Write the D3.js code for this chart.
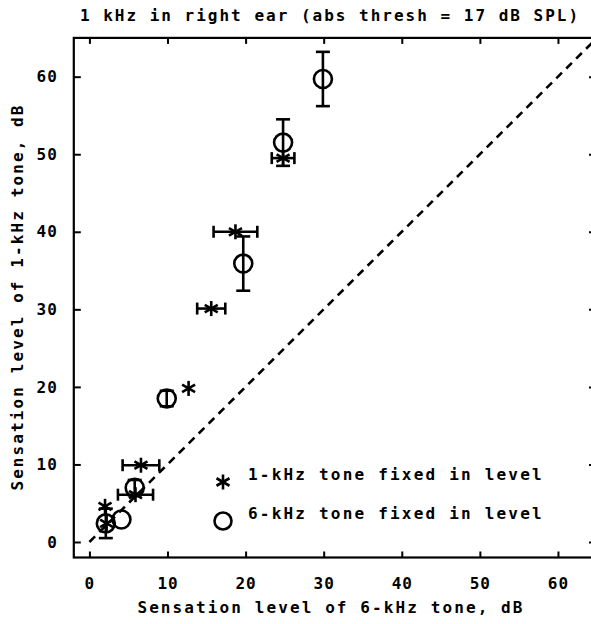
<!DOCTYPE html>
<html>
<head>
<meta charset="utf-8">
<script src="https://cdn.jsdelivr.net/npm/d3@7"></script>
<style>
  body { margin: 0; background: #fff; }
  text { font-family: "DejaVu Sans Mono", monospace; font-weight: bold; fill: #000; }
</style>
</head>
<body>
<div id="chart"></div>
<script>
const width = 591
const height = 624

// 1-kHz tone fixed in level (asterisks), horizontal error bars
const starX = [24.8, 18.7, 15.6, 12.7, 6.6, 5.9, 2.0, 2.2]
const starY = [49.5, 40.0, 30.1, 19.8, 9.9, 6.1, 4.6, 2.4]
const starErr = [1.45, 2.8, 1.8, 0, 2.35, 2.25, 0, 0]

// 6-kHz tone fixed in level (circles), vertical error bars
const circleX = [29.9, 24.8, 19.7, 9.9, 5.8, 2.1, 4.1]
const circleY = [59.7, 51.5, 35.9, 18.5, 7.0, 2.4, 2.9]
const circleErr = [3.5, 3.0, 3.5, 1.0, 1.0, 1.9, 0]

const xTicks = [0, 10, 20, 30, 40, 50, 60]
const yTicks = [0, 10, 20, 30, 40, 50, 60]
const diagonal = [[0, 0], [65, 65]]

const legendLabels = ['1-kHz tone fixed in level', '6-kHz tone fixed in level']

const plotLeft = 73.8, plotRight = 597, plotTop = 37.9, plotBottom = 557.5

const svg = d3.select('#chart')
    .append('svg')
    .attr('width', width)
    .attr('height', height)

const xScale = d3.scaleLinear().domain([-2, 65]).range([plotLeft, plotRight])
const yScale = d3.scaleLinear().domain([-2, 65]).range([plotBottom, plotTop])

svg.append('defs').append('clipPath').attr('id', 'plot')
    .append('rect')
    .attr('x', plotLeft).attr('y', plotTop)
    .attr('width', plotRight - plotLeft).attr('height', plotBottom - plotTop)

// Axes, ticks pointing inward
const fontSize = 16
const axisStyle = g => {
    g.select('.domain').remove()
    g.selectAll('.tick line').attr('stroke', '#000').attr('stroke-width', 2)
    g.selectAll('.tick text')
        .style('font-size', fontSize + 'px')
        .style('letter-spacing', '1px')
}

svg.append('g')
    .attr('transform', `translate(0, ${plotBottom})`)
    .call(d3.axisBottom(xScale).tickValues(xTicks).tickSizeInner(-6).tickSizeOuter(0).tickPadding(20))
    .call(axisStyle)

svg.append('g')
    .attr('transform', `translate(0, ${plotTop})`)
    .call(d3.axisTop(xScale).tickValues(xTicks).tickSizeInner(-6).tickSizeOuter(0).tickFormat(''))
    .call(axisStyle)

svg.append('g')
    .attr('transform', `translate(${plotLeft}, 0)`)
    .call(d3.axisLeft(yScale).tickValues(yTicks).tickSizeInner(-7).tickSizeOuter(0).tickPadding(16))
    .call(axisStyle)

svg.append('g')
    .attr('transform', `translate(${plotRight}, 0)`)
    .call(d3.axisRight(yScale).tickValues(yTicks).tickSizeInner(-8).tickSizeOuter(0).tickFormat(''))
    .call(axisStyle)

// Frame
svg.append('rect')
    .attr('x', plotLeft).attr('y', plotTop)
    .attr('width', plotRight - plotLeft).attr('height', plotBottom - plotTop)
    .attr('fill', 'none')
    .attr('stroke', '#000')
    .attr('stroke-width', 2.2)

// Equal sensation line
svg.append('path')
    .datum(diagonal)
    .attr('clip-path', 'url(#plot)')
    .attr('d', d3.line().x(d => xScale(d[0])).y(d => yScale(d[1])))
    .attr('fill', 'none')
    .attr('stroke', '#000')
    .attr('stroke-width', 2.6)
    .attr('stroke-dasharray', '8,6')

const marks = svg.append('g')
    .attr('stroke', '#000')
    .attr('stroke-width', 2.6)
    .attr('fill', 'none')

const cap = 7

// Circles with vertical error bars
const circles = circleX.map((x, i) => ({ x, y: circleY[i], e: circleErr[i] }))
circles.filter(d => d.e > 0).forEach(d => {
    const g = marks.append('g')
    g.append('line')
        .attr('x1', xScale(d.x)).attr('x2', xScale(d.x))
        .attr('y1', yScale(d.y - d.e)).attr('y2', yScale(d.y + d.e))
    ;[d.y - d.e, d.y + d.e].forEach(v => {
        g.append('line')
            .attr('x1', xScale(d.x) - cap).attr('x2', xScale(d.x) + cap)
            .attr('y1', yScale(v)).attr('y2', yScale(v))
    })
})
marks.selectAll('circle.mark')
    .data(circles)
    .enter()
    .append('circle')
    .attr('class', 'mark')
    .attr('cx', d => xScale(d.x))
    .attr('cy', d => yScale(d.y))
    .attr('r', 9)

// Asterisks with horizontal error bars
const asterisk = (g, cx, cy, r) => {
    g.append('line').attr('x1', cx).attr('x2', cx).attr('y1', cy - r).attr('y2', cy + r)
    const dx = r * Math.cos(Math.PI / 6), dy = r * Math.sin(Math.PI / 6)
    g.append('line').attr('x1', cx - dx).attr('x2', cx + dx).attr('y1', cy - dy).attr('y2', cy + dy)
    g.append('line').attr('x1', cx - dx).attr('x2', cx + dx).attr('y1', cy + dy).attr('y2', cy - dy)
}
const stars = starX.map((x, i) => ({ x, y: starY[i], e: starErr[i] }))
stars.forEach(d => {
    const g = marks.append('g')
    if (d.e > 0) {
        g.append('line')
            .attr('x1', xScale(d.x - d.e)).attr('x2', xScale(d.x + d.e))
            .attr('y1', yScale(d.y)).attr('y2', yScale(d.y))
        ;[d.x - d.e, d.x + d.e].forEach(v => {
            g.append('line')
                .attr('x1', xScale(v)).attr('x2', xScale(v))
                .attr('y1', yScale(d.y) - cap + 1).attr('y2', yScale(d.y) + cap - 1)
        })
    }
    asterisk(g, xScale(d.x), yScale(d.y), 7.5)
})

// Legend
const legend = svg.append('g')
const lg1 = legend.append('g').attr('stroke', '#000').attr('stroke-width', 2.6)
asterisk(lg1, 223, 482, 7.5)
legend.append('circle')
    .attr('cx', 223).attr('cy', 521).attr('r', 8.5)
    .attr('fill', 'none').attr('stroke', '#000').attr('stroke-width', 2.6)
legend.selectAll('text')
    .data(legendLabels)
    .enter()
    .append('text')
    .attr('x', 248)
    .attr('y', (d, i) => 480 + i * 39)
    .style('font-size', fontSize + 'px')
    .style('letter-spacing', '2.2px')
    .text(d => d)

// Titles
svg.append('text')
    .attr('x', 330).attr('y', 21)
    .attr('text-anchor', 'middle')
    .style('font-size', fontSize + 'px')
    .style('letter-spacing', '2px')
    .text('1 kHz in right ear (abs thresh = 17 dB SPL)')

svg.append('text')
    .attr('x', 331).attr('y', 613)
    .attr('text-anchor', 'middle')
    .style('font-size', fontSize + 'px')
    .style('letter-spacing', '2.1px')
    .text('Sensation level of 6-kHz tone, dB')

svg.append('text')
    .attr('transform', 'translate(23, 297) rotate(-90)')
    .attr('text-anchor', 'middle')
    .style('font-size', fontSize + 'px')
    .style('letter-spacing', '2.1px')
    .text('Sensation level of 1-kHz tone, dB')
</script>
</body>
</html>
